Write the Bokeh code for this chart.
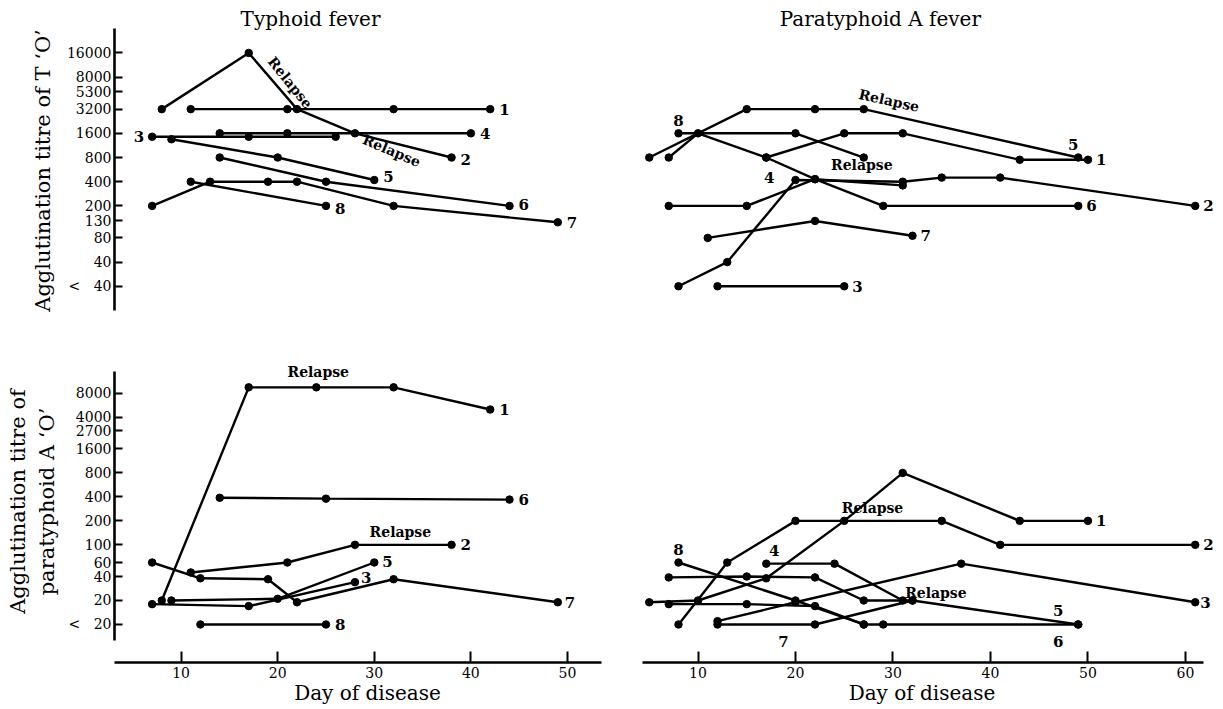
from bokeh.plotting import figure
from bokeh.layouts import column, row
from bokeh.models import Range1d, FixedTicker, Label
from bokeh.core.properties import value
from bokeh.embed import file_html
from bokeh.resources import INLINE

FONT = "DejaVu Serif"

# ---------------- data (day of disease, agglutination titre) ----------------
# Typhoid fever, titre of T 'O'
typhoid_T_days = {
    "1": [11, 21, 32, 42],
    "2": [8, 17, 22, 28, 38],
    "3": [7, 17, 26],
    "4": [14, 21, 40],
    "5": [9, 20, 30],
    "6": [14, 25, 44],
    "7": [7, 13, 19, 22, 32, 49],
    "8": [11, 25],
}
typhoid_T_titre = {
    "1": [3200, 3200, 3200, 3200],
    "2": [3200, 16000, 3200, 1600, 800],
    "3": [1450, 1450, 1450],
    "4": [1600, 1600, 1600],
    "5": [1350, 800, 420],
    "6": [800, 400, 200],
    "7": [200, 400, 400, 400, 200, 125],
    "8": [400, 200],
}
# Paratyphoid A fever, titre of T 'O'
para_T_days = {
    "1": [7, 10, 17, 25, 31, 43, 50],
    "2": [8, 13, 20, 31, 35, 41, 61],
    "3": [12, 25],
    "4": [17, 22, 31],
    "5": [5, 15, 22, 27, 49],
    "6": [7, 15, 22, 29, 49],
    "7": [11, 22, 32],
    "8": [8, 20, 27],
}
para_T_titre = {
    "1": [800, 1600, 800, 1600, 1600, 750, 750],
    "2": [20, 40, 420, 400, 450, 450, 200],
    "3": [20, 20],
    "4": [800, 430, 360],
    "5": [800, 3200, 3200, 3200, 800],
    "6": [200, 200, 430, 200, 200],
    "7": [80, 130, 85],
    "8": [1600, 1600, 800],
}
# Typhoid fever, titre of paratyphoid A 'O'
typhoid_A_days = {
    "1": [8, 17, 24, 32, 42],
    "2": [11, 21, 28, 38],
    "3": [7, 17, 28],
    "5": [9, 20, 30],
    "6": [14, 25, 44],
    "7": [7, 12, 19, 22, 32, 49],
    "8": [12, 25],
}
typhoid_A_titre = {
    "1": [20, 9500, 9500, 9500, 5000],
    "2": [45, 60, 100, 100],
    "3": [18, 17, 34],
    "5": [20, 21, 60],
    "6": [390, 380, 370],
    "7": [60, 38, 37, 19, 37, 19],
    "8": [10, 10],
}
# Paratyphoid A fever, titre of paratyphoid A 'O'
para_A_days = {
    "1": [5, 10, 17, 25, 31, 43, 50],
    "2": [8, 13, 20, 35, 41, 61],
    "3": [12, 20, 37, 61],
    "4": [17, 24, 31],
    "5": [7, 15, 22, 27, 32, 49],
    "6": [7, 15, 22, 27, 29, 49],
    "7": [12, 22, 32],
    "8": [8, 20, 27],
}
para_A_titre = {
    "1": [19, 20, 38, 200, 800, 200, 200],
    "2": [10, 60, 200, 200, 100, 100],
    "3": [11, 19, 58, 19],
    "4": [58, 58, 20],
    "5": [39, 40, 39, 20, 20, 10],
    "6": [18, 18, 17, 10, 10, 10],
    "7": [10, 10, 20],
    "8": [60, 20, 10],
}

# "Relapse" notes: (day, titre, angle in radians)
typhoid_T_relapse = [(21.3, 6850, -0.89), (31.8, 975, -0.40)]
para_T_relapse = [(29.6, 4100, -0.22), (26.8, 650, 0.0)]
typhoid_A_relapse = [(24.2, 14600, 0.0), (32.7, 143, 0.0)]
para_A_relapse = [(27.9, 290, 0.0), (34.4, 25, 0.0)]

# axis ticks
T_ticks = [20, 40, 80, 130, 200, 400, 800, 1600, 3200, 5300, 8000, 16000]
T_tick_labels = ["<\u00a0\u00a0\u00a040", "40", "80", "130", "200", "400", "800",
                 "1600", "3200", "5300", "8000", "16000"]
A_ticks = [10, 20, 40, 60, 100, 200, 400, 800, 1600, 2700, 4000, 8000]
A_tick_labels = ["<\u00a0\u00a0\u00a020", "20", "40", "60", "100", "200", "400", "800",
                 "1600", "2700", "4000", "8000"]
day_ticks_left = [10, 20, 30, 40, 50]
day_ticks_right = [10, 20, 30, 40, 50, 60]

# ---------------- label placement (style) ----------------
# key: (point index, dx, dy, align)
typhoid_T_lab = {"1": (-1, 9, 0, "left"), "2": (-1, 9, 2, "left"), "3": (0, -8, 0, "right"),
                 "4": (-1, 9, 0, "left"), "5": (-1, 9, -4, "left"), "6": (-1, 9, -1, "left"),
                 "7": (-1, 9, 0, "left"), "8": (-1, 9, 3, "left")}
para_T_lab = {"1": (-1, 8, 0, "left"), "2": (-1, 8, 0, "left"), "3": (-1, 8, 0, "left"),
              "4": (0, 3, 20, "center"), "5": (-1, -5, -13, "center"), "6": (-1, 8, 0, "left"),
              "7": (-1, 8, 0, "left"), "8": (0, 0, -13, "center")}
typhoid_A_lab = {"1": (-1, 9, 0, "left"), "2": (-1, 9, 0, "left"), "3": (-1, 6, -5, "left"),
                 "5": (-1, 8, -1, "left"), "6": (-1, 9, 0, "left"), "7": (-1, 7, 0, "left"),
                 "8": (-1, 9, 0, "left")}
para_A_lab = {"1": (-1, 8, 0, "left"), "2": (-1, 8, 0, "left"), "3": (-1, 5, 0, "left"),
              "4": (0, 8, -13, "center"), "5": (-1, -20, -14, "center"), "6": (-1, -20, 17, "center"),
              "7": (0, 66, 17, "center"), "8": (0, 0, -13, "center")}

W_LEFT, W_RIGHT = 620, 603
H_TOP, H_BOT = 340, 369
TOP_YR = (4.23, 71900)
BOT_YR = (3.33, 36800)
LEFT_XR = (3.106, 55.49)
RIGHT_XR = (2.05, 63.9)


def base_fig(width, height, xr, yr, left, below, border_left, border_bottom):
    p = figure(width=width, height=height,
               x_range=Range1d(*xr), y_range=Range1d(*yr), y_axis_type="log",
               x_axis_location="below" if below else None,
               y_axis_location="left" if left else None,
               output_backend="svg", toolbar_location=None,
               min_border_left=border_left, min_border_right=0,
               min_border_top=0, min_border_bottom=border_bottom)
    p.outline_line_color = None
    p.grid.visible = False
    p.background_fill_color = "white"
    p.border_fill_color = "white"
    return p


def style_axis(ax, ticks, labels, bounds, label_text, tick_in, standoff, label_standoff):
    ax.ticker = FixedTicker(ticks=ticks)
    ax.major_label_overrides = {t: l for t, l in zip(ticks, labels)}
    ax.bounds = bounds
    ax.axis_line_width = 2.6
    ax.axis_line_color = "black"
    ax.major_tick_in = tick_in
    ax.major_tick_out = 0
    ax.major_tick_line_width = 2
    ax.major_tick_line_color = "black"
    ax.minor_tick_in = 0
    ax.minor_tick_out = 0
    ax.major_label_text_font = FONT
    ax.major_label_text_font_size = "14px"
    ax.major_label_text_color = "black"
    ax.major_label_standoff = standoff
    ax.axis_label = label_text
    ax.axis_label_text_font = FONT
    ax.axis_label_text_font_size = "21px"
    ax.axis_label_text_font_style = "normal"
    ax.axis_label_text_color = "black"
    ax.axis_label_standoff = label_standoff


def draw(p, days, titre, labs, relapse):
    for k in days:
        p.line(days[k], titre[k], line_width=2.4, line_color="black")
        p.scatter(days[k], titre[k], size=7.5, color="black")
        idx, dx, dy, align = labs[k]
        p.text(x=[days[k][idx]], y=[titre[k][idx]], text=[k], x_offset=dx, y_offset=dy,
               text_align=align, text_baseline="middle", text_font=value(FONT),
               text_font_size="15px", text_font_style="bold", text_color="black")
    for d, t, a in relapse:
        p.text(x=[d], y=[t], text=["Relapse"], angle=a, text_align="center",
               text_baseline="middle", text_font=value(FONT), text_font_size="14px",
               text_font_style="bold", text_color="black")


def title(p, text, x, y):
    p.add_layout(Label(x=x, y=y, text=text, text_align="center", text_baseline="middle",
                       text_font=FONT, text_font_size="20px", text_color="black"))


# ---- top-left
tl = base_fig(W_LEFT, H_TOP, LEFT_XR, TOP_YR, True, False, 114, 0)
style_axis(tl.yaxis[0], T_ticks, T_tick_labels, (9.85, 32100),
           "Agglutination titre of T \u2018O\u2019", 8, 3, 9)
draw(tl, typhoid_T_days, typhoid_T_titre, typhoid_T_lab, typhoid_T_relapse)
title(tl, "Typhoid fever", 23.4, 42900)

# ---- top-right
tr = base_fig(W_RIGHT, H_TOP, RIGHT_XR, TOP_YR, False, False, 0, 0)
draw(tr, para_T_days, para_T_titre, para_T_lab, para_T_relapse)
title(tr, "Paratyphoid A fever", 28.7, 42900)

# ---- bottom-left
bl = base_fig(W_LEFT, H_BOT, LEFT_XR, BOT_YR, True, True, 114, 47)
style_axis(bl.yaxis[0], A_ticks, A_tick_labels, (6.3, 15000),
           "Agglutination titre of\nparatyphoid A \u2018O\u2019", 8, 3, 7)
style_axis(bl.xaxis[0], day_ticks_left, [str(d) for d in day_ticks_left], (3.1, 53.5),
           "Day of disease", 11, 4, 0)
bl.xaxis[0].axis_label_text_font_size = "20px"
draw(bl, typhoid_A_days, typhoid_A_titre, typhoid_A_lab, typhoid_A_relapse)

# ---- bottom-right
br = base_fig(W_RIGHT, H_BOT, RIGHT_XR, BOT_YR, False, True, 0, 47)
style_axis(br.xaxis[0], day_ticks_right, [str(d) for d in day_ticks_right], (4.3, 61.8),
           "Day of disease", 11, 4, 0)
br.xaxis[0].axis_label_text_font_size = "20px"
draw(br, para_A_days, para_A_titre, para_A_lab, para_A_relapse)

layout = column(row(tl, tr), row(bl, br))
open("out.html", "w").write(file_html(layout, INLINE))
